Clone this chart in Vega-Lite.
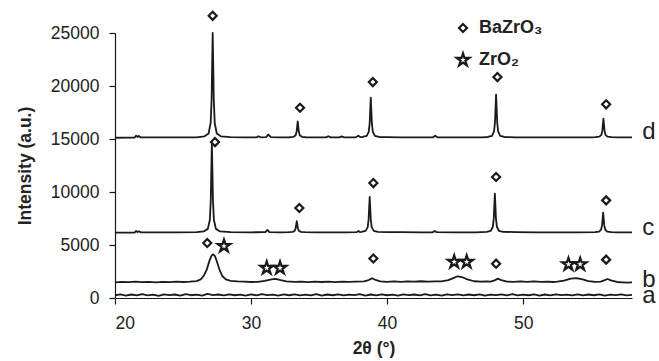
{
  "$schema": "https://vega.github.io/schema/vega-lite/v6.json",
  "width": 517,
  "height": 265,
  "autosize": {"type": "none"},
  "padding": {"left": 115, "top": 33, "right": 27, "bottom": 63},
  "config": {
    "view": {"stroke": null},
    "font": "Liberation Sans",
    "axis": {
      "grid": false,
      "domainColor": "#1a1a1a",
      "tickColor": "#1a1a1a",
      "labelColor": "#222222",
      "titleColor": "#222222",
      "labelFont": "Liberation Sans",
      "titleFont": "Liberation Sans",
      "labelFontSize": 17.5,
      "titleFontSize": 17.5,
      "titleFontWeight": "bold",
      "tickSize": 6,
      "labelPadding": 10,
      "domainWidth": 1.2,
      "tickWidth": 1.2
    },
    "legend": {
      "symbolStrokeWidth": 2.2,
      "symbolStrokeColor": "#1a1a1a",
      "symbolFillColor": "transparent"
    }
  },
  "datasets": {
    "traces": [
      {"s":"a","x":20.0,"y":260},{"s":"a","x":20.4,"y":340},{"s":"a","x":20.8,"y":220},{"s":"a","x":21.2,"y":330},{"s":"a","x":21.6,"y":250},{"s":"a","x":22.0,"y":360},{"s":"a","x":22.4,"y":240},{"s":"a","x":22.8,"y":320},{"s":"a","x":23.2,"y":210},{"s":"a","x":23.6,"y":350},{"s":"a","x":24.0,"y":270},{"s":"a","x":24.4,"y":330},{"s":"a","x":24.8,"y":230},{"s":"a","x":25.2,"y":370},{"s":"a","x":25.6,"y":260},{"s":"a","x":26.0,"y":310},{"s":"a","x":26.4,"y":220},{"s":"a","x":26.8,"y":380},{"s":"a","x":27.2,"y":280},{"s":"a","x":27.6,"y":330},{"s":"a","x":28.0,"y":240},{"s":"a","x":28.4,"y":350},{"s":"a","x":28.8,"y":260},{"s":"a","x":29.2,"y":320},{"s":"a","x":29.6,"y":230},{"s":"a","x":30.0,"y":340},{"s":"a","x":30.4,"y":250},{"s":"a","x":30.8,"y":360},{"s":"a","x":31.2,"y":270},{"s":"a","x":31.6,"y":320},{"s":"a","x":32.0,"y":220},{"s":"a","x":32.4,"y":340},{"s":"a","x":32.8,"y":260},{"s":"a","x":33.2,"y":350},{"s":"a","x":33.6,"y":240},{"s":"a","x":34.0,"y":310},{"s":"a","x":34.4,"y":250},{"s":"a","x":34.8,"y":360},{"s":"a","x":35.2,"y":230},{"s":"a","x":35.6,"y":330},{"s":"a","x":36.0,"y":260},{"s":"a","x":36.4,"y":350},{"s":"a","x":36.8,"y":240},{"s":"a","x":37.2,"y":320},{"s":"a","x":37.6,"y":270},{"s":"a","x":38.0,"y":360},{"s":"a","x":38.4,"y":230},{"s":"a","x":38.8,"y":330},{"s":"a","x":39.2,"y":250},{"s":"a","x":39.6,"y":340},{"s":"a","x":40.0,"y":260},{"s":"a","x":40.4,"y":310},{"s":"a","x":40.8,"y":220},{"s":"a","x":41.2,"y":350},{"s":"a","x":41.6,"y":270},{"s":"a","x":42.0,"y":330},{"s":"a","x":42.4,"y":240},{"s":"a","x":42.8,"y":360},{"s":"a","x":43.2,"y":250},{"s":"a","x":43.6,"y":320},{"s":"a","x":44.0,"y":230},{"s":"a","x":44.4,"y":350},{"s":"a","x":44.8,"y":270},{"s":"a","x":45.2,"y":340},{"s":"a","x":45.6,"y":240},{"s":"a","x":46.0,"y":330},{"s":"a","x":46.4,"y":260},{"s":"a","x":46.8,"y":350},{"s":"a","x":47.2,"y":230},{"s":"a","x":47.6,"y":320},{"s":"a","x":48.0,"y":270},{"s":"a","x":48.4,"y":340},{"s":"a","x":48.8,"y":250},{"s":"a","x":49.2,"y":360},{"s":"a","x":49.6,"y":240},{"s":"a","x":50.0,"y":310},{"s":"a","x":50.4,"y":260},{"s":"a","x":50.8,"y":350},{"s":"a","x":51.2,"y":230},{"s":"a","x":51.6,"y":330},{"s":"a","x":52.0,"y":250},{"s":"a","x":52.4,"y":340},{"s":"a","x":52.8,"y":270},{"s":"a","x":53.2,"y":320},{"s":"a","x":53.6,"y":240},{"s":"a","x":54.0,"y":350},{"s":"a","x":54.4,"y":250},{"s":"a","x":54.8,"y":330},{"s":"a","x":55.2,"y":260},{"s":"a","x":55.6,"y":340},{"s":"a","x":56.0,"y":230},{"s":"a","x":56.4,"y":320},{"s":"a","x":56.8,"y":270},{"s":"a","x":57.2,"y":350},{"s":"a","x":57.6,"y":250},{"s":"a","x":58.0,"y":300},

      {"s":"b","x":20.0,"y":1480},{"s":"b","x":20.5,"y":1530},{"s":"b","x":21.0,"y":1490},{"s":"b","x":21.5,"y":1540},{"s":"b","x":22.0,"y":1500},{"s":"b","x":22.5,"y":1530},{"s":"b","x":23.0,"y":1480},{"s":"b","x":23.5,"y":1530},{"s":"b","x":24.0,"y":1500},{"s":"b","x":24.5,"y":1540},{"s":"b","x":25.0,"y":1510},{"s":"b","x":25.5,"y":1540},{"s":"b","x":26.0,"y":1600},{"s":"b","x":26.3,"y":1750},{"s":"b","x":26.55,"y":2150},{"s":"b","x":26.75,"y":2700},{"s":"b","x":26.95,"y":3550},{"s":"b","x":27.1,"y":4000},{"s":"b","x":27.22,"y":4120},{"s":"b","x":27.35,"y":3950},{"s":"b","x":27.5,"y":3400},{"s":"b","x":27.7,"y":2600},{"s":"b","x":27.9,"y":2050},{"s":"b","x":28.15,"y":1750},{"s":"b","x":28.5,"y":1620},{"s":"b","x":29.0,"y":1560},{"s":"b","x":29.5,"y":1540},{"s":"b","x":30.0,"y":1510},{"s":"b","x":30.5,"y":1530},{"s":"b","x":31.0,"y":1620},{"s":"b","x":31.5,"y":1760},{"s":"b","x":31.8,"y":1800},{"s":"b","x":32.1,"y":1700},{"s":"b","x":32.6,"y":1560},{"s":"b","x":33.2,"y":1520},{"s":"b","x":33.7,"y":1540},{"s":"b","x":34.2,"y":1500},{"s":"b","x":34.7,"y":1550},{"s":"b","x":35.2,"y":1510},{"s":"b","x":35.7,"y":1540},{"s":"b","x":36.2,"y":1500},{"s":"b","x":36.7,"y":1550},{"s":"b","x":37.2,"y":1520},{"s":"b","x":37.7,"y":1550},{"s":"b","x":38.3,"y":1560},{"s":"b","x":38.65,"y":1690},{"s":"b","x":38.9,"y":1870},{"s":"b","x":39.15,"y":1700},{"s":"b","x":39.5,"y":1570},{"s":"b","x":40.0,"y":1530},{"s":"b","x":40.5,"y":1570},{"s":"b","x":41.0,"y":1530},{"s":"b","x":41.5,"y":1570},{"s":"b","x":42.0,"y":1540},{"s":"b","x":42.5,"y":1580},{"s":"b","x":43.0,"y":1540},{"s":"b","x":43.5,"y":1570},{"s":"b","x":44.0,"y":1570},{"s":"b","x":44.5,"y":1690},{"s":"b","x":44.9,"y":1900},{"s":"b","x":45.2,"y":2050},{"s":"b","x":45.5,"y":1980},{"s":"b","x":45.9,"y":1750},{"s":"b","x":46.4,"y":1580},{"s":"b","x":46.9,"y":1540},{"s":"b","x":47.3,"y":1570},{"s":"b","x":47.6,"y":1550},{"s":"b","x":47.9,"y":1660},{"s":"b","x":48.15,"y":1830},{"s":"b","x":48.4,"y":1680},{"s":"b","x":48.8,"y":1550},{"s":"b","x":49.3,"y":1530},{"s":"b","x":49.8,"y":1570},{"s":"b","x":50.3,"y":1520},{"s":"b","x":50.8,"y":1560},{"s":"b","x":51.3,"y":1520},{"s":"b","x":51.8,"y":1550},{"s":"b","x":52.2,"y":1510},{"s":"b","x":52.5,"y":1540},{"s":"b","x":53.0,"y":1640},{"s":"b","x":53.5,"y":1820},{"s":"b","x":53.9,"y":1880},{"s":"b","x":54.3,"y":1770},{"s":"b","x":54.8,"y":1600},{"s":"b","x":55.3,"y":1520},{"s":"b","x":55.7,"y":1540},{"s":"b","x":56.0,"y":1680},{"s":"b","x":56.2,"y":1790},{"s":"b","x":56.45,"y":1660},{"s":"b","x":56.9,"y":1510},{"s":"b","x":57.3,"y":1480},{"s":"b","x":57.7,"y":1450},{"s":"b","x":58.0,"y":1470},

      {"s":"c","x":20.0,"y":6160},{"s":"c","x":21.0,"y":6170},{"s":"c","x":21.45,"y":6180},{"s":"c","x":21.55,"y":6330},{"s":"c","x":21.65,"y":6230},{"s":"c","x":21.75,"y":6300},{"s":"c","x":21.9,"y":6190},{"s":"c","x":23.0,"y":6190},{"s":"c","x":24.5,"y":6200},{"s":"c","x":26.0,"y":6210},{"s":"c","x":26.52,"y":6280},{"s":"c","x":26.82,"y":6520},{"s":"c","x":26.97,"y":7360},{"s":"c","x":27.04,"y":9220},{"s":"c","x":27.08,"y":12000},{"s":"c","x":27.12,"y":14600},{"s":"c","x":27.16,"y":12000},{"s":"c","x":27.2,"y":9220},{"s":"c","x":27.27,"y":7360},{"s":"c","x":27.42,"y":6520},{"s":"c","x":27.72,"y":6280},{"s":"c","x":28.5,"y":6220},{"s":"c","x":30.0,"y":6200},{"s":"c","x":31.05,"y":6210},{"s":"c","x":31.2,"y":6420},{"s":"c","x":31.35,"y":6210},{"s":"c","x":32.2,"y":6200},{"s":"c","x":32.76,"y":6210},{"s":"c","x":33.06,"y":6240},{"s":"c","x":33.21,"y":6350},{"s":"c","x":33.28,"y":6580},{"s":"c","x":33.32,"y":6930},{"s":"c","x":33.36,"y":7260},{"s":"c","x":33.4,"y":6930},{"s":"c","x":33.44,"y":6580},{"s":"c","x":33.51,"y":6350},{"s":"c","x":33.66,"y":6240},{"s":"c","x":33.96,"y":6210},{"s":"c","x":34.8,"y":6200},{"s":"c","x":36.0,"y":6200},{"s":"c","x":37.0,"y":6200},{"s":"c","x":37.75,"y":6210},{"s":"c","x":37.9,"y":6330},{"s":"c","x":38.0,"y":6220},{"s":"c","x":38.12,"y":6230},{"s":"c","x":38.42,"y":6330},{"s":"c","x":38.57,"y":6660},{"s":"c","x":38.64,"y":7400},{"s":"c","x":38.68,"y":8500},{"s":"c","x":38.72,"y":9530},{"s":"c","x":38.76,"y":8500},{"s":"c","x":38.8,"y":7400},{"s":"c","x":38.87,"y":6660},{"s":"c","x":39.02,"y":6330},{"s":"c","x":39.32,"y":6230},{"s":"c","x":40.0,"y":6220},{"s":"c","x":41.0,"y":6210},{"s":"c","x":42.5,"y":6200},{"s":"c","x":43.35,"y":6200},{"s":"c","x":43.5,"y":6330},{"s":"c","x":43.65,"y":6210},{"s":"c","x":45.0,"y":6200},{"s":"c","x":46.5,"y":6200},{"s":"c","x":47.32,"y":6240},{"s":"c","x":47.62,"y":6340},{"s":"c","x":47.77,"y":6700},{"s":"c","x":47.84,"y":7510},{"s":"c","x":47.88,"y":8720},{"s":"c","x":47.92,"y":9850},{"s":"c","x":47.96,"y":8720},{"s":"c","x":48.0,"y":7510},{"s":"c","x":48.07,"y":6700},{"s":"c","x":48.22,"y":6340},{"s":"c","x":48.52,"y":6240},{"s":"c","x":49.5,"y":6210},{"s":"c","x":51.0,"y":6200},{"s":"c","x":52.5,"y":6200},{"s":"c","x":54.0,"y":6200},{"s":"c","x":55.28,"y":6220},{"s":"c","x":55.58,"y":6270},{"s":"c","x":55.73,"y":6460},{"s":"c","x":55.8,"y":6870},{"s":"c","x":55.84,"y":7480},{"s":"c","x":55.88,"y":8060},{"s":"c","x":55.92,"y":7480},{"s":"c","x":55.96,"y":6870},{"s":"c","x":56.03,"y":6460},{"s":"c","x":56.18,"y":6270},{"s":"c","x":56.48,"y":6220},{"s":"c","x":57.0,"y":6200},{"s":"c","x":58.0,"y":6200},

      {"s":"d","x":20.0,"y":15120},{"s":"d","x":21.0,"y":15130},{"s":"d","x":21.45,"y":15140},{"s":"d","x":21.55,"y":15320},{"s":"d","x":21.65,"y":15190},{"s":"d","x":21.75,"y":15290},{"s":"d","x":21.9,"y":15150},{"s":"d","x":23.0,"y":15150},{"s":"d","x":24.5,"y":15150},{"s":"d","x":26.0,"y":15160},{"s":"d","x":26.58,"y":15250},{"s":"d","x":26.88,"y":15520},{"s":"d","x":27.03,"y":16510},{"s":"d","x":27.1,"y":18700},{"s":"d","x":27.14,"y":21950},{"s":"d","x":27.18,"y":25000},{"s":"d","x":27.22,"y":21950},{"s":"d","x":27.26,"y":18700},{"s":"d","x":27.33,"y":16510},{"s":"d","x":27.48,"y":15520},{"s":"d","x":27.78,"y":15250},{"s":"d","x":28.5,"y":15180},{"s":"d","x":29.5,"y":15150},{"s":"d","x":30.4,"y":15150},{"s":"d","x":30.54,"y":15260},{"s":"d","x":30.7,"y":15160},{"s":"d","x":31.1,"y":15170},{"s":"d","x":31.27,"y":15420},{"s":"d","x":31.45,"y":15170},{"s":"d","x":32.2,"y":15150},{"s":"d","x":32.83,"y":15165},{"s":"d","x":33.13,"y":15210},{"s":"d","x":33.28,"y":15360},{"s":"d","x":33.35,"y":15700},{"s":"d","x":33.39,"y":16200},{"s":"d","x":33.43,"y":16670},{"s":"d","x":33.47,"y":16200},{"s":"d","x":33.51,"y":15700},{"s":"d","x":33.58,"y":15360},{"s":"d","x":33.73,"y":15210},{"s":"d","x":34.03,"y":15165},{"s":"d","x":34.8,"y":15150},{"s":"d","x":35.5,"y":15150},{"s":"d","x":35.68,"y":15260},{"s":"d","x":35.85,"y":15150},{"s":"d","x":36.5,"y":15150},{"s":"d","x":36.67,"y":15240},{"s":"d","x":36.85,"y":15150},{"s":"d","x":37.7,"y":15160},{"s":"d","x":37.89,"y":15310},{"s":"d","x":38.05,"y":15170},{"s":"d","x":38.2,"y":15190},{"s":"d","x":38.5,"y":15290},{"s":"d","x":38.65,"y":15670},{"s":"d","x":38.72,"y":16500},{"s":"d","x":38.76,"y":17740},{"s":"d","x":38.8,"y":18900},{"s":"d","x":38.84,"y":17740},{"s":"d","x":38.88,"y":16500},{"s":"d","x":38.95,"y":15670},{"s":"d","x":39.1,"y":15290},{"s":"d","x":39.4,"y":15190},{"s":"d","x":40.0,"y":15170},{"s":"d","x":41.0,"y":15150},{"s":"d","x":42.0,"y":15150},{"s":"d","x":43.35,"y":15150},{"s":"d","x":43.53,"y":15310},{"s":"d","x":43.7,"y":15160},{"s":"d","x":45.0,"y":15150},{"s":"d","x":46.0,"y":15150},{"s":"d","x":47.0,"y":15160},{"s":"d","x":47.41,"y":15190},{"s":"d","x":47.71,"y":15300},{"s":"d","x":47.86,"y":15710},{"s":"d","x":47.93,"y":16600},{"s":"d","x":47.97,"y":17940},{"s":"d","x":48.01,"y":19190},{"s":"d","x":48.05,"y":17940},{"s":"d","x":48.09,"y":16600},{"s":"d","x":48.16,"y":15710},{"s":"d","x":48.31,"y":15300},{"s":"d","x":48.61,"y":15190},{"s":"d","x":49.5,"y":15160},{"s":"d","x":51.0,"y":15150},{"s":"d","x":52.5,"y":15150},{"s":"d","x":54.0,"y":15150},{"s":"d","x":55.0,"y":15160},{"s":"d","x":55.3,"y":15170},{"s":"d","x":55.6,"y":15220},{"s":"d","x":55.75,"y":15390},{"s":"d","x":55.82,"y":15790},{"s":"d","x":55.86,"y":16370},{"s":"d","x":55.9,"y":16920},{"s":"d","x":55.94,"y":16370},{"s":"d","x":55.98,"y":15790},{"s":"d","x":56.05,"y":15390},{"s":"d","x":56.2,"y":15220},{"s":"d","x":56.5,"y":15170},{"s":"d","x":57.0,"y":15150},{"s":"d","x":58.0,"y":15150}
    ],
    "markers": [
      {"phase":"BaZrO₃","x":27.18,"y":26620},{"phase":"BaZrO₃","x":33.6,"y":17950},{"phase":"BaZrO₃","x":38.95,"y":20370},{"phase":"BaZrO₃","x":48.11,"y":20840},{"phase":"BaZrO₃","x":56.1,"y":18270},
      {"phase":"BaZrO₃","x":27.35,"y":14710},{"phase":"BaZrO₃","x":33.55,"y":8490},{"phase":"BaZrO₃","x":38.99,"y":10840},{"phase":"BaZrO₃","x":48.01,"y":11410},{"phase":"BaZrO₃","x":56.1,"y":9210},
      {"phase":"BaZrO₃","x":26.78,"y":5190},{"phase":"BaZrO₃","x":38.99,"y":3720},{"phase":"BaZrO₃","x":48.01,"y":3240},{"phase":"BaZrO₃","x":56.1,"y":3620},
      {"phase":"ZrO₂","x":28.01,"y":4900},{"phase":"ZrO₂","x":31.15,"y":2830},{"phase":"ZrO₂","x":32.13,"y":2830},{"phase":"ZrO₂","x":44.93,"y":3400},{"phase":"ZrO₂","x":45.85,"y":3400},{"phase":"ZrO₂","x":53.33,"y":3180},{"phase":"ZrO₂","x":54.19,"y":3180}
    ],
    "labels": [
      {"t":"a","x":58.75,"y":-480},
      {"t":"b","x":58.75,"y":1020},
      {"t":"c","x":58.75,"y":5980},
      {"t":"d","x":58.75,"y":15030}
    ]
  },
  "layer": [
    {
      "data": {"name": "traces"},
      "mark": {"type": "line", "color": "#1a1a1a", "strokeWidth": 1.8, "strokeJoin": "round"},
      "encoding": {
        "x": {"field": "x", "type": "quantitative", "scale": {"domain": [20, 58], "nice": false, "zero": false},
              "axis": {"values": [20, 30, 40, 50], "title": "2θ (°)", "titlePadding": 8}},
        "y": {"field": "y", "type": "quantitative", "scale": {"domain": [0, 25000], "nice": false},
              "axis": {"values": [0, 5000, 10000, 15000, 20000, 25000], "format": "d", "title": "Intensity (a.u.)", "titlePadding": 16}},
        "detail": {"field": "s", "type": "nominal"}
      }
    },
    {
      "data": {"name": "markers"},
      "mark": {"type": "point", "filled": false, "strokeWidth": 2.2, "color": "#1a1a1a", "opacity": 1},
      "encoding": {
        "x": {"field": "x", "type": "quantitative"},
        "y": {"field": "y", "type": "quantitative"},
        "shape": {"field": "phase", "type": "nominal",
                  "scale": {"domain": ["BaZrO₃", "ZrO₂"], "range": ["diamond", "M0,-1L0.2245,-0.309L0.951,-0.309L0.363,0.118L0.588,0.809L0,0.382L-0.588,0.809L-0.363,0.118L-0.951,-0.309L-0.2245,-0.309Z"]},
                  "legend": {"title": null, "orient": "none", "legendX": 339, "legendY": -14, "padding": 0, "rowPadding": 12, "labelFontSize": 18, "labelFontWeight": "bold", "labelColor": "#222222", "labelOffset": 7, "labelFont": "Liberation Sans"}},
        "size": {"field": "phase", "type": "nominal", "scale": {"domain": ["BaZrO₃", "ZrO₂"], "range": [64, 173]}}
      }
    },
    {
      "data": {"name": "labels"},
      "mark": {"type": "text", "align": "left", "baseline": "alphabetic", "fontSize": 24, "color": "#222222", "font": "Liberation Sans"},
      "encoding": {
        "x": {"field": "x", "type": "quantitative"},
        "y": {"field": "y", "type": "quantitative"},
        "text": {"field": "t"}
      }
    }
  ]
}
